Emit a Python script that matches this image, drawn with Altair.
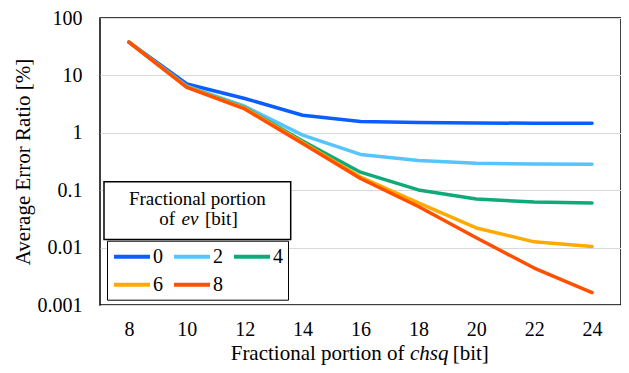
import altair as alt
import pandas as pd

# ---- data ----
chsq_bits = [8, 10, 12, 14, 16, 18, 20, 22, 24]
ev_bits = ["0", "2", "4", "6", "8"]
err_ev0 = [38, 7.1, 3.96, 2.02, 1.58, 1.51, 1.48, 1.47, 1.47]
err_ev2 = [38, 6.5, 2.9, 0.91, 0.42, 0.33, 0.295, 0.285, 0.283]
err_ev4 = [38, 6.3, 2.75, 0.72, 0.206, 0.101, 0.07, 0.062, 0.06]
err_ev6 = [38, 6.3, 2.7, 0.68, 0.17, 0.06, 0.022, 0.0126, 0.0105]
err_ev8 = [38, 6.2, 2.6, 0.65, 0.16, 0.052, 0.0148, 0.0044, 0.00165]
y_ticks = [0.001, 0.01, 0.1, 1, 10, 100]
colors = ["#0A5EFF", "#55C4FF", "#10A97A", "#FFAA00", "#FF5000"]

series = [err_ev0, err_ev2, err_ev4, err_ev6, err_ev8]
rows = []
for ev, vals in zip(ev_bits, series):
    for c, v in zip(chsq_bits, vals):
        rows.append({"chsq": c, "ev": ev, "err": v})
df = pd.DataFrame(rows)

FONT = "Liberation Serif"
W, H = 521, 287

lines = alt.Chart(df).mark_line(strokeWidth=3.5, strokeCap="round", strokeJoin="round").encode(
    x=alt.X("chsq:O", scale=alt.Scale(type="point", padding=0.5),
            axis=alt.Axis(title=None, labelAngle=0, labelFont=FONT, labelFontSize=20,
                          labelColor="black", ticks=False, tickSize=0, domain=False,
                          labelPadding=14, grid=False)),
    y=alt.Y("err:Q", scale=alt.Scale(type="log", domain=[0.001, 100]),
            axis=alt.Axis(title="Average Error Ratio [%]", values=y_ticks, format="~g",
                          labelFont=FONT, labelFontSize=20, labelColor="black",
                          ticks=False, tickSize=0, domain=False, labelPadding=18,
                          titleFont=FONT, titleFontSize=21, titleFontWeight="normal",
                          titleColor="black", titlePadding=4,
                          grid=True, gridColor="#d9d9d9", gridWidth=1)),
    color=alt.Color("ev:N", scale=alt.Scale(domain=ev_bits, range=colors),
                    legend=alt.Legend(title=None, orient="none", legendX=7, legendY=222.7,
                                      direction="horizontal", columns=3,
                                      symbolType="M-1,0H3", symbolStrokeWidth=4,
                                      symbolSize=324, labelOffset=19, labelFont=FONT,
                                      labelFontSize=20, labelColor="black", columnPadding=3,
                                      rowPadding=7, padding=5, strokeColor="black",
                                      fillColor="white")),
)

one = pd.DataFrame({"k": [0]})
title_box = alt.Chart(one).mark_rect(fill="white", stroke="black", strokeWidth=1.5).encode(
    x=alt.value(4), x2=alt.value(190.7), y=alt.value(163.7), y2=alt.value(221.5))

legend_title_1 = "Fractional portion"
legend_title_of = "of"
legend_title_ev = "ev"
legend_title_bit = "[bit]"
xtitle_a = "Fractional portion of"
xtitle_b = "chsq"
xtitle_c = "[bit]"

def txt(s, x, y, italic=False, size=19, align="left"):
    return alt.Chart(one).mark_text(text=s, font=FONT, fontSize=size, align=align,
                                    baseline="alphabetic", color="black",
                                    fontStyle="italic" if italic else "normal").encode(
        x=alt.value(x), y=alt.value(y))

texts = [
    txt(legend_title_1, 97.3, 186.5, align="center"),
    txt(legend_title_of, 59.3, 207.2),
    txt(legend_title_ev, 81.5, 207.2, italic=True),
    txt(legend_title_bit, 105, 207.2),
    txt(xtitle_a, 130.7, 342, size=21),
    txt(xtitle_b, 310, 342, italic=True, size=21),
    txt(xtitle_c, 352.7, 342, size=21),
]

chart = alt.layer(lines, title_box, *texts).properties(
    width=W, height=H,
    autosize=alt.AutoSizeParams(type="none"),
    padding={"left": 92, "top": 10, "right": 0, "bottom": 60},
).configure(font=FONT).configure_axis(labelFont=FONT, titleFont=FONT).configure_legend(
    labelFont=FONT).configure_view(stroke="black", strokeWidth=1.5)

chart.save("out.html", embed_options={"renderer": "svg", "actions": False})
